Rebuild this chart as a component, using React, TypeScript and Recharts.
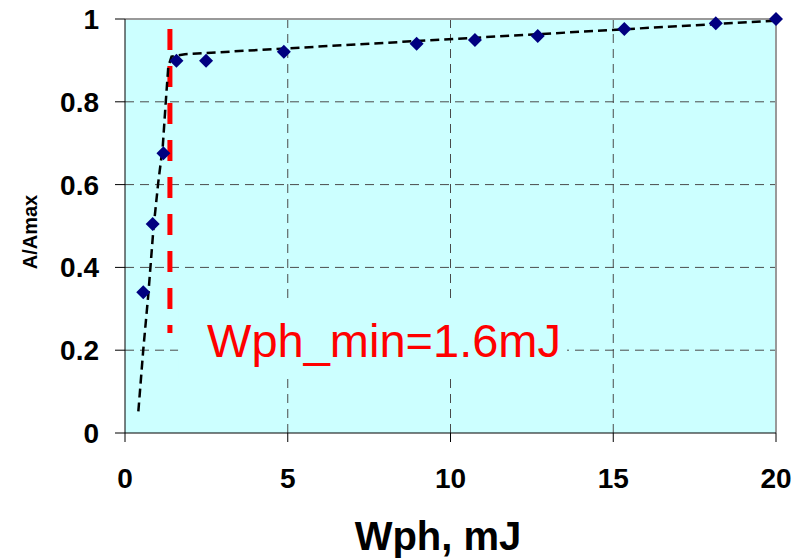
import {
  ComposedChart,
  Scatter,
  Line,
  XAxis,
  YAxis,
  CartesianGrid,
  ReferenceLine,
  ReferenceArea,
} from "recharts";

// measured points: Wph (mJ) vs A/Amax
const wph = [0.56, 0.85, 1.18, 1.58, 2.49, 4.88, 8.96, 10.75, 12.68, 15.34, 18.15, 20];
const amp = [0.34, 0.505, 0.676, 0.899, 0.899, 0.921, 0.94, 0.949, 0.959, 0.976, 0.99, 1.0];

// dashed trend line
const trendX = [0.41, 0.56, 0.72, 0.87, 1.02, 1.16, 1.25, 1.33, 1.43, 1.84, 20];
const trendY = [0.052, 0.2, 0.338, 0.49, 0.604, 0.692, 0.797, 0.885, 0.909, 0.915, 0.996];

const xTicks = [0, 5, 10, 15, 20];
const yTicks = [0, 0.2, 0.4, 0.6, 0.8, 1];

const threshold = 1.38;
const thresholdTop = 0.976;
const thresholdBottom = 0.2415;
const note = "Wph_min=1.6mJ";

const points = wph.map((x, i) => ({ x, y: amp[i] }));
const trend = trendX.map((x, i) => ({ x, t: trendY[i] }));

const font = "'Liberation Sans', Arial, sans-serif";
const tickStyle = { fontSize: 28, fontWeight: "bold", fill: "#000", fontFamily: font };

const Diamond = (props: any) => {
  const { cx, cy } = props;
  const r = 7;
  return (
    <polygon
      points={`${cx},${cy - r} ${cx + r},${cy} ${cx},${cy + r} ${cx - r},${cy}`}
      fill="#000080"
    />
  );
};

export default function App() {
  return (
    <div style={{ position: "absolute", left: 0, top: 0, background: "#fff" }}>
      <ComposedChart
        width={810}
        height={560}
        margin={{ top: 19, right: 34, left: 0, bottom: 0 }}
      >
        <CartesianGrid
          fill="#ccffff"
          stroke="#4a4a4a"
          strokeDasharray="9 6"
          horizontalValues={[0.2, 0.4, 0.6, 0.8]}
          verticalValues={[5, 10, 15]}
        />
        <XAxis
          type="number"
          dataKey="x"
          domain={[0, 20]}
          ticks={xTicks}
          height={127}
          stroke="#000"
          tickSize={9}
          tickMargin={26}
          tick={tickStyle}
          label={{
            content: () => (
              <text
                x={438}
                y={550}
                textAnchor="middle"
                style={{ fontSize: 40, fontWeight: "bold", fontFamily: font }}
                fill="#000"
              >
                Wph, mJ
              </text>
            ),
          }}
        />
        <YAxis
          type="number"
          domain={[0, 1]}
          ticks={yTicks}
          width={125}
          stroke="#000"
          tickSize={10}
          tickMargin={16}
          tick={tickStyle}
        />
        <text
          x={37}
          y={232}
          transform="rotate(-90 37 232)"
          textAnchor="middle"
          style={{ fontSize: 20, fontWeight: "bold", fontFamily: font }}
          fill="#000"
        >
          A/Amax
        </text>
        <ReferenceLine y={1} stroke="#999" strokeWidth={2} />
        <ReferenceLine x={20} stroke="#999" strokeWidth={2} />
        <ReferenceArea
          x1={1.63}
          x2={13.58}
          y1={0.133}
          y2={0.321}
          fill="#ccffff"
          fillOpacity={1}
          stroke="none"
          label={{
            content: (p: any) => (
              <text
                x={p.viewBox.x + 29}
                y={p.viewBox.y + 57}
                style={{ fontSize: 47, fontFamily: font }}
                fill="#ff0000"
              >
                {note}
              </text>
            ),
          }}
        />
        <ReferenceLine
          segment={[
            { x: threshold, y: thresholdTop },
            { x: threshold, y: thresholdBottom },
          ]}
          stroke="#ff0000"
          strokeWidth={5}
          strokeDasharray="21 16"
        />
        <Line
          data={trend}
          dataKey="t"
          type="linear"
          stroke="#000"
          strokeWidth={2.5}
          strokeDasharray="9 5"
          dot={false}
          activeDot={false}
          isAnimationActive={false}
        />
        <Scatter
          data={points}
          dataKey="y"
          shape={Diamond}
          isAnimationActive={false}
        />
      </ComposedChart>
    </div>
  );
}
